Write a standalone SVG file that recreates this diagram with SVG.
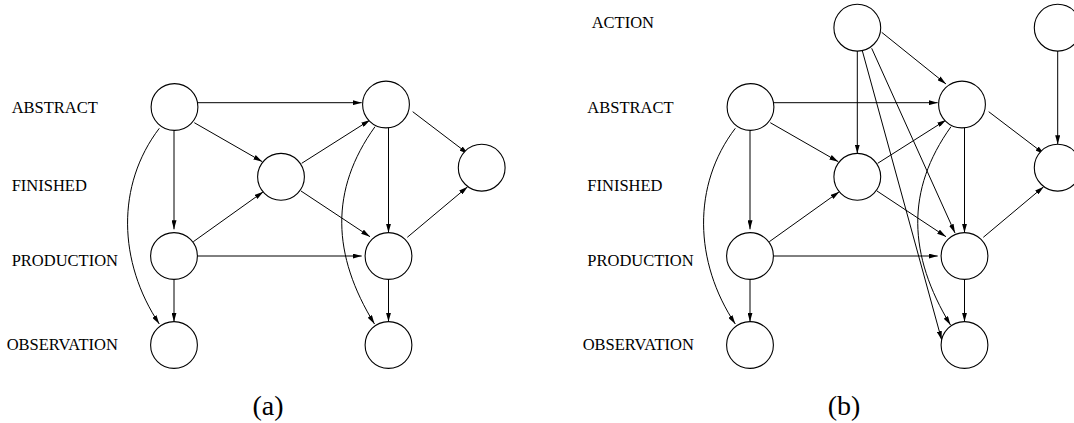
<svg xmlns="http://www.w3.org/2000/svg" width="1074" height="423" viewBox="0 0 1074 423">
<style>
.n{fill:#fff;stroke:#000;stroke-width:1.1}
.e{fill:none;stroke:#000;stroke-width:1;marker-end:url(#ah)}
.lbl{font-family:"Liberation Serif","Times New Roman",serif;font-size:16.5px;fill:#000}
.cap{font-family:"Liberation Serif","Times New Roman",serif;font-size:28px;fill:#000;text-anchor:middle}
</style>
<defs>
<marker id="ah" viewBox="0 0 9 5" refX="9" refY="2.5" markerWidth="9" markerHeight="5" markerUnits="userSpaceOnUse" orient="auto"><path d="M0,0 L9,2.5 L0,5 z" fill="#000"/></marker>
</defs>
<rect width="1074" height="423" fill="#fff"/>
<g id="labels">
<text class="lbl" x="11.7" y="112.5">ABSTRACT</text>
<text class="lbl" x="11.7" y="191">FINISHED</text>
<text class="lbl" x="11.7" y="266">PRODUCTION</text>
<text class="lbl" x="6.7" y="350">OBSERVATION</text>
<text class="lbl" x="591.7" y="28.3">ACTION</text>
<text class="lbl" x="587.3" y="112.5">ABSTRACT</text>
<text class="lbl" x="587.3" y="191">FINISHED</text>
<text class="lbl" x="587.3" y="266">PRODUCTION</text>
<text class="lbl" x="582.7" y="350">OBSERVATION</text>
<text class="cap" x="268" y="415">(a)</text>
<text class="cap" x="844" y="415">(b)</text>
</g>
<g id="connectors">
<line class="e" x1="197.7" y1="102.7" x2="361.7" y2="102.7"/>
<line class="e" x1="194.3" y1="122.7" x2="262.3" y2="161.7"/>
<line class="e" x1="174" y1="130.7" x2="174" y2="229.3"/>
<path class="e" d="M159.3,128.3 C116,185 118,262 159.3,324"/>
<line class="e" x1="301.7" y1="163.3" x2="370" y2="120"/>
<line class="e" x1="301" y1="191" x2="370" y2="236.7"/>
<line class="e" x1="193.3" y1="241.7" x2="263.3" y2="191.7"/>
<line class="e" x1="197.7" y1="256" x2="361.7" y2="256"/>
<line class="e" x1="174" y1="279.3" x2="174" y2="321.7"/>
<line class="e" x1="412.7" y1="111.7" x2="468.3" y2="154"/>
<line class="e" x1="388.5" y1="127.5" x2="388.5" y2="232.7"/>
<path class="e" d="M375,126.7 C329.5,190 332,255 374.5,324"/>
<line class="e" x1="407.3" y1="237.3" x2="467.7" y2="186.7"/>
<line class="e" x1="388.5" y1="279.3" x2="388.5" y2="321.7"/>

<line class="e" x1="773.7" y1="102.7" x2="937.7" y2="102.7"/>
<line class="e" x1="770.3" y1="122.7" x2="838.3" y2="161.7"/>
<line class="e" x1="750" y1="130.7" x2="750" y2="229.3"/>
<path class="e" d="M735.3,128.3 C692,185 694,262 735.3,324"/>
<line class="e" x1="877.7" y1="163.3" x2="946" y2="120"/>
<line class="e" x1="877" y1="191" x2="946" y2="236.7"/>
<line class="e" x1="769.3" y1="241.7" x2="839.3" y2="191.7"/>
<line class="e" x1="773.7" y1="256" x2="937.7" y2="256"/>
<line class="e" x1="750" y1="279.3" x2="750" y2="321.7"/>
<line class="e" x1="988.7" y1="111.7" x2="1044.3" y2="154"/>
<line class="e" x1="964.5" y1="127.5" x2="964.5" y2="232.7"/>
<path class="e" d="M951,126.7 C905.5,190 908,255 950.5,325"/>
<line class="e" x1="983.3" y1="237.3" x2="1043.7" y2="186.7"/>
<line class="e" x1="964.5" y1="279.3" x2="964.5" y2="321.7"/>
<line class="e" x1="857.3" y1="51" x2="857.3" y2="153.5"/>
<line class="e" x1="881.7" y1="32.3" x2="946" y2="84"/>
<line class="e" x1="871.7" y1="48.3" x2="955" y2="233"/>
<line class="e" x1="862.3" y1="50.7" x2="941.7" y2="340"/>
<line class="e" x1="1057.7" y1="51" x2="1057.7" y2="144.3"/>
</g>
<g id="a-abstract-1"><circle class="n" cx="174.5" cy="107" r="23.4"/></g>
<g id="a-abstract-2"><circle class="n" cx="386" cy="104.5" r="23.4"/></g>
<g id="a-finished-1"><circle class="n" cx="281" cy="176.8" r="23.4"/></g>
<g id="a-finished-2"><circle class="n" cx="481.7" cy="167.7" r="23.4"/></g>
<g id="a-production-1"><circle class="n" cx="174" cy="256" r="23.4"/></g>
<g id="a-production-2"><circle class="n" cx="388.5" cy="256" r="23.4"/></g>
<g id="a-observation-1"><circle class="n" cx="174" cy="345" r="23.4"/></g>
<g id="a-observation-2"><circle class="n" cx="388.5" cy="345" r="23.4"/></g>

<g id="b-action-1"><circle class="n" cx="857.3" cy="27.7" r="23.4"/></g>
<g id="b-action-2"><circle class="n" cx="1057.7" cy="27.7" r="23.4"/></g>
<g id="b-abstract-1"><circle class="n" cx="750.5" cy="107" r="23.4"/></g>
<g id="b-abstract-2"><circle class="n" cx="962" cy="104.5" r="23.4"/></g>
<g id="b-finished-1"><circle class="n" cx="857.3" cy="176.8" r="23.4"/></g>
<g id="b-finished-2"><circle class="n" cx="1057.7" cy="167.7" r="23.4"/></g>
<g id="b-production-1"><circle class="n" cx="750" cy="256" r="23.4"/></g>
<g id="b-production-2"><circle class="n" cx="964.5" cy="256" r="23.4"/></g>
<g id="b-observation-1"><circle class="n" cx="750" cy="345" r="23.4"/></g>
<g id="b-observation-2"><circle class="n" cx="964.5" cy="345" r="23.4"/></g>
</svg>
